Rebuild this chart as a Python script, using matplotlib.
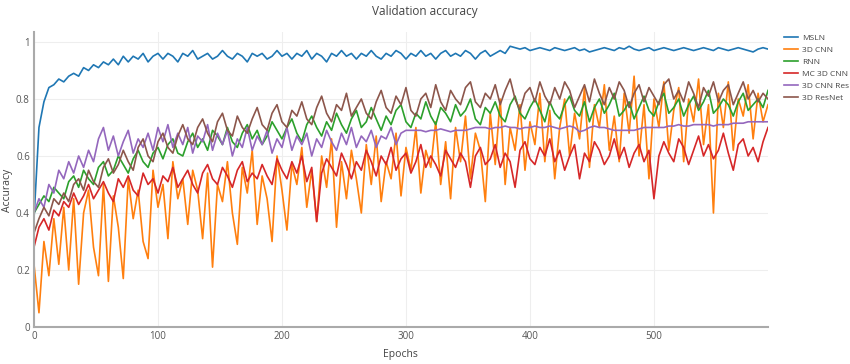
import numpy as np
import matplotlib
matplotlib.use("Agg")
import matplotlib.pyplot as plt

plt.rcParams['font.family'] = ['Open Sans', 'DejaVu Sans']

epochs = np.arange(0, 593, 4)

msln = [0.38, 0.70, 0.79, 0.84, 0.85, 0.87, 0.86, 0.88, 0.89, 0.88, 0.91, 0.90, 0.92, 0.91, 0.93, 0.92, 0.94, 0.92, 0.95, 0.93,
        0.95, 0.94, 0.96, 0.93, 0.95, 0.96,
        0.94, 0.96, 0.95, 0.93, 0.96, 0.95, 0.97, 0.94, 0.95, 0.96, 0.94, 0.95, 0.97, 0.95, 0.94, 0.96, 0.95, 0.93, 0.96, 0.95,
        0.96, 0.94, 0.95, 0.97, 0.95, 0.96, 0.94, 0.96, 0.95, 0.97, 0.94, 0.96, 0.95, 0.93, 0.96, 0.95, 0.97, 0.95, 0.96, 0.94,
        0.96, 0.95, 0.97, 0.95, 0.94, 0.96, 0.95, 0.97, 0.96, 0.94, 0.96, 0.95, 0.97, 0.95, 0.96, 0.94, 0.96, 0.97, 0.95, 0.96,
        0.95, 0.97, 0.96, 0.94, 0.96, 0.97, 0.95, 0.96, 0.97, 0.96,
        0.985, 0.98, 0.975, 0.98, 0.97, 0.975, 0.98, 0.975, 0.97, 0.98, 0.975, 0.97, 0.975, 0.98, 0.97, 0.975, 0.965, 0.97, 0.975, 0.98,
        0.975, 0.97, 0.98, 0.975, 0.985, 0.975, 0.97, 0.975, 0.98, 0.97, 0.975, 0.98, 0.975, 0.97, 0.975, 0.98, 0.975, 0.97, 0.975, 0.98,
        0.975, 0.97, 0.98, 0.975, 0.97, 0.975, 0.98, 0.975, 0.97, 0.965, 0.975, 0.98, 0.975]

cnn3d = [0.22, 0.05, 0.30, 0.18, 0.38, 0.22, 0.42, 0.20, 0.45, 0.15, 0.40, 0.48, 0.28, 0.18, 0.50, 0.16, 0.46, 0.35, 0.17, 0.52,
         0.38, 0.48, 0.30, 0.24, 0.55, 0.42, 0.50, 0.31, 0.58, 0.45, 0.52, 0.36, 0.55, 0.48, 0.31, 0.54, 0.21, 0.50, 0.44, 0.58,
         0.40, 0.29, 0.56, 0.47, 0.62, 0.36, 0.53, 0.45, 0.30, 0.60, 0.48, 0.34, 0.57, 0.50, 0.63, 0.42, 0.55, 0.37, 0.60, 0.49,
         0.66, 0.35, 0.58, 0.45, 0.62, 0.52, 0.40, 0.64, 0.50, 0.67, 0.44, 0.58, 0.52, 0.68, 0.46, 0.63, 0.55, 0.70, 0.47, 0.62,
         0.56, 0.72, 0.50, 0.65, 0.45, 0.70, 0.58, 0.74, 0.52, 0.68, 0.62, 0.44, 0.75, 0.57, 0.80, 0.50, 0.70, 0.62, 0.78, 0.55,
         0.72, 0.64, 0.82, 0.58, 0.76, 0.52, 0.70, 0.80, 0.60, 0.75, 0.66, 0.84, 0.56, 0.78, 0.70, 0.85, 0.62, 0.74, 0.58, 0.82,
         0.68, 0.88, 0.60, 0.78, 0.52, 0.80, 0.70, 0.86, 0.62, 0.76, 0.84, 0.58, 0.80, 0.72, 0.87, 0.64, 0.78, 0.40, 0.82, 0.70,
         0.86, 0.62, 0.80, 0.74, 0.85, 0.66, 0.82, 0.72, 0.78]

rnn = [0.40, 0.43, 0.46, 0.44, 0.49, 0.47, 0.45, 0.51, 0.53, 0.49, 0.55, 0.52, 0.50, 0.56, 0.58, 0.53, 0.55, 0.60, 0.57, 0.54,
       0.59, 0.62, 0.58, 0.56, 0.61, 0.63,
       0.59, 0.64, 0.66, 0.61, 0.60, 0.65, 0.68, 0.63, 0.66, 0.62, 0.69, 0.67, 0.64, 0.70, 0.65, 0.63, 0.68, 0.71, 0.66, 0.69,
       0.64, 0.67, 0.72, 0.69, 0.66, 0.70, 0.73, 0.68, 0.65, 0.71, 0.74, 0.70, 0.67, 0.72, 0.69, 0.75, 0.71, 0.68, 0.73, 0.76,
       0.70, 0.72, 0.77, 0.73, 0.69, 0.74, 0.71, 0.76, 0.78, 0.72, 0.70, 0.75, 0.73, 0.79, 0.74, 0.71, 0.77, 0.75, 0.72, 0.78,
       0.74, 0.76, 0.80, 0.73, 0.71, 0.77, 0.75, 0.79, 0.74, 0.72, 0.78, 0.81, 0.75, 0.73, 0.77, 0.80, 0.76, 0.72, 0.79, 0.75,
       0.73, 0.78, 0.81, 0.76, 0.74, 0.79, 0.72, 0.77, 0.80, 0.75, 0.78, 0.82, 0.74, 0.76, 0.79, 0.73, 0.77, 0.81, 0.76, 0.74,
       0.79, 0.82, 0.75, 0.77, 0.80, 0.74, 0.78, 0.81, 0.76, 0.79, 0.83, 0.75, 0.77, 0.80, 0.78, 0.74, 0.79, 0.82, 0.76, 0.78,
       0.80, 0.77, 0.83]

mc3dcnn = [0.28, 0.35, 0.38, 0.34, 0.41, 0.39, 0.44, 0.42, 0.47, 0.43, 0.46, 0.50, 0.45, 0.48, 0.51, 0.47, 0.44, 0.52, 0.49, 0.53,
           0.48, 0.46, 0.54, 0.50, 0.52, 0.47,
           0.53, 0.51, 0.56, 0.49, 0.52, 0.55, 0.50, 0.47, 0.54, 0.57, 0.52, 0.50, 0.56, 0.53, 0.49, 0.55, 0.58, 0.51, 0.54, 0.52,
           0.57, 0.53, 0.50, 0.59, 0.55, 0.52, 0.58, 0.54, 0.60, 0.51, 0.56, 0.37, 0.54, 0.59, 0.56, 0.53, 0.61, 0.57, 0.52, 0.58,
           0.55, 0.62, 0.58, 0.53, 0.60, 0.57, 0.63, 0.55, 0.59, 0.61, 0.54, 0.58, 0.64, 0.56, 0.60, 0.57, 0.53, 0.62, 0.59, 0.56,
           0.61, 0.58, 0.49, 0.60, 0.63, 0.57, 0.59, 0.64, 0.56, 0.61, 0.58, 0.49, 0.62, 0.65, 0.59, 0.57, 0.63, 0.60, 0.66, 0.58,
           0.62, 0.55, 0.60, 0.64, 0.52, 0.61, 0.58, 0.65, 0.62, 0.57, 0.60, 0.66, 0.59, 0.63, 0.56, 0.61, 0.64, 0.58, 0.62, 0.45,
           0.60, 0.65, 0.61, 0.58, 0.66, 0.63, 0.57, 0.62, 0.67, 0.60, 0.64, 0.59, 0.62, 0.68, 0.61, 0.55, 0.64, 0.66, 0.60, 0.63,
           0.58, 0.65, 0.70]

cnnres = [0.40, 0.45, 0.42, 0.50, 0.47, 0.55, 0.52, 0.58, 0.54, 0.60, 0.56, 0.62, 0.58, 0.66, 0.70, 0.62, 0.67, 0.60, 0.65, 0.69,
          0.61, 0.66, 0.63, 0.68, 0.62, 0.70,
          0.65, 0.71, 0.63, 0.68, 0.64, 0.70, 0.61, 0.67, 0.65, 0.71, 0.62, 0.68, 0.64, 0.69, 0.60, 0.66, 0.63, 0.70, 0.62, 0.67,
          0.64, 0.69, 0.61, 0.66, 0.63, 0.70, 0.62, 0.67, 0.64, 0.68, 0.60, 0.66, 0.63, 0.69, 0.65, 0.62, 0.68, 0.64, 0.70, 0.63,
          0.67, 0.65, 0.69, 0.63, 0.67, 0.66, 0.70, 0.64, 0.68, 0.69, 0.69, 0.69, 0.69, 0.685, 0.69, 0.69, 0.695, 0.69, 0.685, 0.69,
          0.69, 0.69, 0.695, 0.70, 0.70, 0.70, 0.695, 0.70, 0.70, 0.705, 0.70, 0.70, 0.695, 0.70, 0.70, 0.705, 0.70, 0.70, 0.705, 0.70,
          0.695, 0.70, 0.705, 0.70, 0.685, 0.69, 0.70, 0.705, 0.70, 0.70, 0.695, 0.69, 0.69, 0.69, 0.69, 0.69, 0.695, 0.70, 0.70, 0.70,
          0.70, 0.70, 0.705, 0.705, 0.71, 0.705, 0.705, 0.71, 0.71, 0.71, 0.71, 0.705, 0.71, 0.71, 0.71, 0.715, 0.715, 0.715, 0.72, 0.72,
          0.72, 0.72, 0.72]

resnet3d = [0.33, 0.38, 0.42, 0.39, 0.45, 0.43, 0.47, 0.44, 0.50, 0.52, 0.48, 0.55, 0.51, 0.49, 0.56, 0.59, 0.54, 0.57, 0.62, 0.58,
            0.55, 0.63, 0.66, 0.60, 0.58, 0.65,
            0.68, 0.63, 0.61, 0.67, 0.71, 0.66, 0.64, 0.70, 0.73, 0.68, 0.65, 0.72, 0.75, 0.69, 0.67, 0.74, 0.70, 0.68, 0.73, 0.77,
            0.71, 0.69, 0.75, 0.78, 0.72, 0.70, 0.76, 0.74, 0.79, 0.73, 0.71, 0.77, 0.81, 0.75, 0.72, 0.78, 0.76, 0.82, 0.74, 0.77,
            0.80, 0.75, 0.73, 0.79, 0.83, 0.77, 0.75, 0.81, 0.78, 0.84, 0.76, 0.74, 0.80, 0.82, 0.77, 0.85, 0.79, 0.76, 0.83, 0.80,
            0.78, 0.84, 0.86, 0.79, 0.77, 0.82, 0.80, 0.85, 0.78, 0.83, 0.87, 0.80, 0.76, 0.82, 0.84, 0.79, 0.86, 0.81, 0.78, 0.84,
            0.80, 0.86, 0.83, 0.77, 0.81, 0.85, 0.79, 0.87, 0.82, 0.78, 0.84, 0.80, 0.86, 0.83, 0.77, 0.82, 0.85, 0.79, 0.84, 0.81,
            0.78, 0.85, 0.87, 0.80, 0.83, 0.79, 0.86, 0.82, 0.77, 0.84, 0.81, 0.86, 0.79, 0.83, 0.85, 0.78, 0.82, 0.86, 0.80, 0.83,
            0.79, 0.82, 0.80]

series = [("MSLN", msln, "#1f77b4"), ("3D CNN", cnn3d, "#ff7f0e"), ("RNN", rnn, "#2ca02c"),
          ("MC 3D CNN", mc3dcnn, "#d62728"), ("3D CNN Res", cnnres, "#9467bd"), ("3D ResNet", resnet3d, "#8c564b")]

W, H = 850, 364
fig = plt.figure(figsize=(W / 100, H / 100), dpi=100)
ax = fig.add_axes([34 / W, (H - 327) / H, 734 / W, 295 / H])

for name, vals, col in series:
    ax.plot(epochs, vals, color=col, lw=1.2, label=name, solid_joinstyle='round')

ax.set_xlim(0, 592)
ax.set_ylim(0, 1.035)
ax.set_xticks([0, 100, 200, 300, 400, 500])
ax.set_yticks([0, 0.2, 0.4, 0.6, 0.8, 1])
ax.set_yticklabels(["0", "0.2", "0.4", "0.6", "0.8", "1"])
ax.grid(True, color="#eeeeee", lw=0.8)
ax.set_axisbelow(True)
for s in ["top", "right"]:
    ax.spines[s].set_visible(False)
for s in ["left", "bottom"]:
    ax.spines[s].set_color("#aaaaaa")
    ax.spines[s].set_linewidth(1.5)
ax.tick_params(length=0, labelsize=7, colors="#555555", pad=3)

fig.text(425 / W, 1 - 11 / H, "Validation accuracy", ha="center", va="center", fontsize=8.5, color="#444444")
fig.text(400 / W, 1 - 355 / H, "Epochs", ha="center", va="center", fontsize=7.5, color="#444444")
fig.text(8 / W, 1 - 190 / H, "Accuracy", ha="center", va="center", rotation=90, fontsize=7.5, color="#444444")

fig.legend(loc="upper left", bbox_to_anchor=(784 / W, 1 - 34 / H), frameon=False, fontsize=6,
           handlelength=1.7, handletextpad=0.5, labelspacing=0.5, borderaxespad=0, borderpad=0,
           labelcolor="#444444")

fig.savefig("out.png", dpi=100)
